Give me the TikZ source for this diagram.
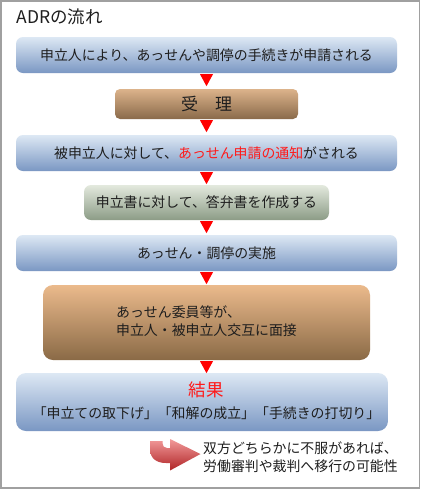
\documentclass[tikz,border=0pt]{standalone}
\usepackage{fontspec}
\setmainfont{Noto Sans CJK JP}
\usetikzlibrary{calc}
\definecolor{frameC}{HTML}{A0A0A0}
\definecolor{txt}{HTML}{1E1E1E}
\definecolor{redT}{HTML}{FF1A1A}
\definecolor{bTop}{HTML}{DDE8F4}
\definecolor{bMid}{HTML}{B6CAE3}
\definecolor{bBot}{HTML}{7A97C3}
\definecolor{brTop}{HTML}{DCB38B}
\definecolor{brBot}{HTML}{8A6A4A}
\definecolor{gTop}{HTML}{E3E9DE}
\definecolor{gBot}{HTML}{8C9C86}
\definecolor{oTop}{HTML}{EBBA8C}
\definecolor{oBot}{HTML}{8A6A46}
\definecolor{aTop}{HTML}{F29A9A}
\definecolor{aBot}{HTML}{B02426}
\tikzset{
  box/.style={rounded corners=7pt, inner sep=0pt, text=txt, align=center,
    font=\fontsize{13.9}{17}\selectfont},
  bluebox/.style={box, top color=bTop, middle color=bMid, bottom color=bBot},
  brownbox/.style={box, top color=brTop, bottom color=brBot},
  greenbox/.style={box, top color=gTop, bottom color=gBot},
  orangebox/.style={box, rounded corners=10pt, top color=oTop, bottom color=oBot},
  lbl/.style={text=txt, align=center, inner sep=0pt, font=\fontsize{13.9}{17}\selectfont},
  tri/.style={fill=red},
}
\newcommand{\downtri}[1]{\fill[tri] ($(#1.south)+(-6.5,1)$) -- ($(#1.south)+(6.5,1)$) -- ($(#1.south)+(0,13)$) -- cycle;}
\begin{document}
\begin{tikzpicture}[x=1pt,y=-1pt]
\useasboundingbox (0,0) rectangle (422,491);
\fill[white] (0,0) rectangle (422,491);
\draw[frameC, line width=1.6pt] (1,1) rectangle (419.5,488);

\node[anchor=west, text=txt, inner sep=0pt, font=\fontsize{17.5}{20}\selectfont] (title) at (16.5,16.5) {ADRの流れ};

\node[bluebox, minimum width=381pt, minimum height=36pt] (b1) at (206.5,55) {申立人により、あっせんや調停の手続きが申請される};
\node[brownbox, rounded corners=5pt, minimum width=183pt, minimum height=30pt, font=\fontsize{17}{20}\selectfont] (b2) at (206.5,104) {受\hspace{1em}理};
\node[bluebox, minimum width=381pt, minimum height=36pt] (b3) at (206.5,153) {被申立人に対して、\textcolor{redT}{あっせん申請の通知}がされる};
\node[greenbox, minimum width=245pt, minimum height=35pt] (b4) at (206.5,202.5) {申立書に対して、答弁書を作成する};
\node[bluebox, minimum width=381pt, minimum height=36pt] (b5) at (206.5,253) {あっせん・調停の実施};
\node[orangebox, minimum width=327pt, minimum height=75pt] (b6) at (206.5,322.5) {};
\node[lbl, align=left, font=\fontsize{13.9}{17.5}\selectfont] (b6t) at (206.5,321) {あっせん委員等が、\\申立人・被申立人交互に面接};
\node[bluebox, rounded corners=10pt, minimum width=372pt, minimum height=58pt] (b7) at (202,402) {};
\node[lbl, font=\fontsize{13.9}{22}\selectfont] (b7t) at (206.5,400.5) {{\color{redT}\fontsize{17.5}{21}\selectfont 結果}\\「申立ての取下げ」「和解の成立」「手続きの打切り」};

\downtri{b1}
\downtri{b2}
\downtri{b3}
\downtri{b4}
\downtri{b5}
\downtri{b6}

\shade[top color=aTop, bottom color=aBot, shading angle=0]
  (150,441) -- (150,449) .. controls (150,458) and (156,463) .. (166,463)
  -- (170,463) -- (170,470.5) -- (200.5,454) -- (170,439) -- (170,448)
  -- (167,448) .. controls (164,448) and (162.5,446) .. (162.5,443) -- (162.5,441) -- cycle;

\node[anchor=north west, text=txt, align=left, font=\fontsize{13.9}{18}\selectfont, inner sep=0pt] (note) at (203,441.5) {双方どちらかに不服があれば、\\労働審判や裁判へ移行の可能性};
\end{tikzpicture}
\end{document}
